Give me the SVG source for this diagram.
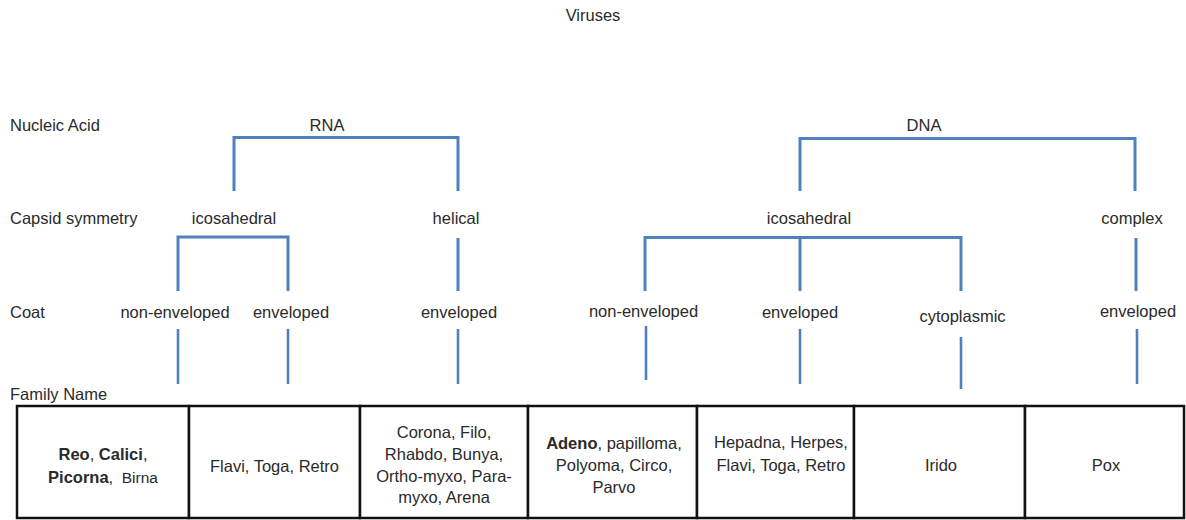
<svg xmlns="http://www.w3.org/2000/svg" width="1186" height="520" viewBox="0 0 1186 520">
<style>
text{font-family:"Liberation Sans",Arial,sans-serif;font-size:16.5px;fill:#2a2a2a}
.c{text-anchor:middle}
.b{font-weight:bold}
.sm{font-size:15.5px}
.ln{fill:none;stroke:#4f81bd;stroke-width:3;stroke-linecap:butt}
.cl{fill:none;stroke:#4f81bd;stroke-width:2.6}
.cell{fill:#fff;stroke:#111;stroke-width:2.5}
</style>
<rect width="1186" height="520" fill="#fff"/>
<g id="connectors">
<path class="ln" d="M234,191 V137.5 H458 V191"/>
<path class="ln" d="M800,191 V138.5 H1135 V191"/>
<path class="ln" d="M178,291 V237 H288 V291"/>
<path class="ln" d="M458,238 V291"/>
<path class="ln" d="M645,291 V237.5 H961 V291 M800,237.5 V291"/>
<path class="ln" d="M1136,238 V291"/>
<path class="cl" d="M178,329 V384 M288,329 V384 M458,329 V384 M646,326 V380 M800,329 V384 M961,337 V389 M1137,329 V384"/>
</g>
<g id="title"><text class="c" x="593" y="21">Viruses</text></g>
<g id="row-labels">
<text x="10" y="131">Nucleic Acid</text>
<text x="10" y="224">Capsid symmetry</text>
<text x="10" y="318">Coat</text>
<text x="10" y="400">Family Name</text>
</g>
<g id="rna"><text class="c" x="327" y="131">RNA</text></g>
<g id="dna"><text class="c" x="924" y="131">DNA</text></g>
<g id="rna-icosahedral"><text class="c" x="234" y="224">icosahedral</text></g>
<g id="rna-helical"><text class="c" x="456" y="224">helical</text></g>
<g id="dna-icosahedral"><text class="c" x="809" y="224">icosahedral</text></g>
<g id="dna-complex"><text class="c" x="1132" y="224">complex</text></g>
<g id="coat-1"><text class="c" x="175" y="318">non-enveloped</text></g>
<g id="coat-2"><text class="c" x="291" y="318">enveloped</text></g>
<g id="coat-3"><text class="c" x="459" y="318">enveloped</text></g>
<g id="coat-4"><text class="c" x="643.5" y="317">non-enveloped</text></g>
<g id="coat-5"><text class="c" x="800" y="318">enveloped</text></g>
<g id="coat-6"><text class="c" x="962.5" y="322">cytoplasmic</text></g>
<g id="coat-7"><text class="c" x="1138" y="317">enveloped</text></g>
<g id="family-1">
<rect class="cell" x="17" y="406" width="172" height="112"/>
<text class="c" x="103" y="460"><tspan class="b">Reo</tspan>, <tspan class="b">Calici</tspan>,</text>
<text class="c" x="103" y="483"><tspan class="b">Picorna</tspan>, <tspan class="sm" dx="4">Birna</tspan></text>
</g>
<g id="family-2">
<rect class="cell" x="189" y="406" width="171" height="112"/>
<text class="c" x="274.5" y="472">Flavi, Toga, Retro</text>
</g>
<g id="family-3">
<rect class="cell" x="360" y="406" width="168" height="112"/>
<text class="c" x="444" y="438">Corona, Filo,</text>
<text class="c" x="444" y="460">Rhabdo, Bunya,</text>
<text class="c" x="444" y="482">Ortho-myxo, Para-</text>
<text class="c" x="444" y="503">myxo, Arena</text>
</g>
<g id="family-4">
<rect class="cell" x="528" y="406" width="169" height="112"/>
<text class="c" x="614" y="449"><tspan class="b">Adeno</tspan>, papilloma,</text>
<text class="c" x="614" y="471">Polyoma, Circo,</text>
<text class="c" x="614" y="493">Parvo</text>
</g>
<g id="family-5">
<rect class="cell" x="697" y="406" width="157" height="112"/>
<text class="c" x="781" y="448">Hepadna, Herpes,</text>
<text class="c" x="781" y="471">Flavi, Toga, Retro</text>
</g>
<g id="family-6">
<rect class="cell" x="854" y="406" width="171" height="112"/>
<text class="c" x="941" y="471">Irido</text>
</g>
<g id="family-7">
<rect class="cell" x="1025" y="406" width="159" height="112"/>
<text class="c" x="1106" y="471">Pox</text>
</g>
</svg>
